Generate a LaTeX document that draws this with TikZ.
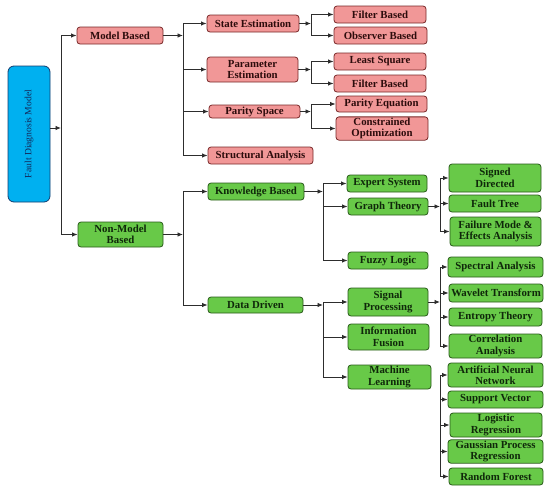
\documentclass[tikz,border=0pt]{standalone}
\usepackage{fontspec}
\setmainfont{Liberation Serif}
\usepackage{xcolor}
\usetikzlibrary{arrows.meta}

\definecolor{pinkfill}{RGB}{241,151,151}
\definecolor{pinkline}{RGB}{120,40,40}
\definecolor{pinktext}{RGB}{45,12,12}
\definecolor{greenfill}{RGB}{104,201,72}
\definecolor{greenline}{RGB}{40,90,25}
\definecolor{greentext}{RGB}{15,40,10}
\definecolor{bluefill}{RGB}{0,176,240}
\definecolor{blueline}{RGB}{20,60,110}
\definecolor{bluetext}{RGB}{20,40,90}
\definecolor{linegray}{RGB}{45,45,45}

\tikzset{
  box/.style={draw, rounded corners=3pt, line width=0.8pt, align=center, inner sep=1pt,
    font=\fontsize{10.8}{11.5}\selectfont\bfseries},
  pinkbox/.style={box, fill=pinkfill, draw=pinkline, text=pinktext},
  greenbox/.style={box, fill=greenfill, draw=greenline, text=greentext},
  rootbox/.style={draw=blueline, fill=bluefill, text=bluetext, rounded corners=6pt,
    line width=0.8pt, font=\fontsize{9.6}{11}\selectfont},
  sz/.style 2 args={minimum width=#1, minimum height=#2},
  conn/.style={draw=linegray, line width=0.9pt, -{Latex[length=5.5pt,width=4.5pt]}},
  trunk/.style={draw=linegray, line width=0.9pt},
}

\begin{document}
\begin{tikzpicture}[x=1pt,y=-1pt]
\useasboundingbox (0,0) rectangle (550,491);

% Root
\node[rootbox, sz={42}{136}] (fdm) at (29,134) {\rotatebox{90}{Fault Diagnosis Model}};

% Level 1
\node[pinkbox, sz={86}{17}] (mb) at (120,35.5) {Model Based};
\node[greenbox, sz={85}{25}] (nmb) at (120.5,234.5) {Non-Model\\Based};

% Model based branch
\node[pinkbox, sz={92}{17}] (se) at (253,23.5) {State Estimation};
\node[pinkbox, sz={91}{25}] (pe) at (252.5,69.5) {Parameter\\Estimation};
\node[pinkbox, sz={91}{13}] (ps) at (254.5,111.5) {Parity Space};
\node[pinkbox, sz={105}{17}] (sa) at (260.5,155.5) {Structural Analysis};

\node[pinkbox, sz={92}{17}] (fb1) at (380,14.5) {Filter Based};
\node[pinkbox, sz={93}{17}] (ob) at (380.5,35.5) {Observer Based};
\node[pinkbox, sz={92}{17}] (ls) at (380,61.5) {Least Square};
\node[pinkbox, sz={92}{17}] (fb2) at (380,83.5) {Filter Based};
\node[pinkbox, sz={91}{16}] (pq) at (381.5,104) {Parity Equation};
\node[pinkbox, sz={92}{23}] (co) at (382,128.5) {Constrained\\Optimization};

% Non-model based branch
\node[greenbox, sz={96}{17}] (kb) at (256,191.5) {Knowledge Based};
\node[greenbox, sz={95}{16}] (dd) at (255.5,305) {Data Driven};

\node[greenbox, sz={80}{17}] (es) at (387,183.5) {Expert System};
\node[greenbox, sz={80}{17}] (gt) at (388,206.5) {Graph Theory};
\node[greenbox, sz={80}{17}] (fl) at (388,260.5) {Fuzzy Logic};
\node[greenbox, sz={92}{28}] (sd) at (495,178) {Signed\\Directed};
\node[greenbox, sz={92}{17}] (ft) at (495,203.5) {Fault Tree};
\node[greenbox, sz={91}{29}] (fm) at (495.5,231.5) {Failure Mode \&\\Effects Analysis};

\node[greenbox, sz={80}{28}] (sp) at (388,302) {Signal\\Processing};
\node[greenbox, sz={81}{26}] (inf) at (388.5,337) {Information\\Fusion};
\node[greenbox, sz={83}{24}] (ml) at (389.5,377) {Machine\\Learning};

\node[greenbox, sz={95}{20}] (spa) at (495.5,267) {Spectral Analysis};
\node[greenbox, sz={94}{18}, inner xsep=0pt] (wt) at (496,293) {Wavelet Transform};
\node[greenbox, sz={93}{18}] (et) at (495.5,317) {Entropy Theory};
\node[greenbox, sz={93}{24}] (ca) at (495.5,346) {Correlation\\Analysis};
\node[greenbox, sz={95}{24}] (ann) at (495.5,375) {Artificial Neural\\Network};
\node[greenbox, sz={95}{17}] (sv) at (495.5,399.5) {Support Vector};
\node[greenbox, sz={92}{24}] (lr) at (496,425) {Logistic\\Regression};
\node[greenbox, sz={95}{23}] (gp) at (495.5,451.5) {Gaussian Process\\Regression};
\node[greenbox, sz={94}{17}] (rf) at (496,476.5) {Random Forest};

% Trunk positions
\coordinate (j1) at (61,128);
\coordinate (j2) at (183,0);
\coordinate (j3) at (311,0);
\coordinate (j4) at (323,0);
\coordinate (j5) at (440,0);

% Connectors
\draw[trunk] (j1 |- mb) -- (j1 |- nmb);
\draw[conn] (fdm.east |- j1) -- (j1);
\foreach \c in {mb,nmb} \draw[conn] (j1 |- \c) -- (\c);

\draw[trunk] (j2 |- se) -- (j2 |- sa);
\draw[conn] (mb) -- (j2 |- mb);
\foreach \c in {se,pe,ps,sa} \draw[conn] (j2 |- \c) -- (\c);

\draw[trunk] (j2 |- kb) -- (j2 |- dd);
\draw[conn] (nmb) -- (j2 |- nmb);
\foreach \c in {kb,dd} \draw[conn] (j2 |- \c) -- (\c);

\foreach \p/\a/\b in {se/fb1/ob, pe/ls/fb2, ps/pq/co} {
  \draw[trunk] (j3 |- \a) -- (j3 |- \b);
  \draw[conn] (\p) -- (j3 |- \p);
  \draw[conn] (j3 |- \a) -- (\a);
  \draw[conn] (j3 |- \b) -- (\b);
}

\draw[trunk] (j4 |- es) -- (j4 |- fl);
\draw[conn] (kb) -- (j4 |- kb);
\foreach \c in {es,gt,fl} \draw[conn] (j4 |- \c) -- (\c);

\draw[trunk] (j4 |- sp) -- (j4 |- ml);
\draw[conn] (dd) -- (j4 |- dd);
\foreach \c in {sp,inf,ml} \draw[conn] (j4 |- \c) -- (\c);

\draw[trunk] (j5 |- sd) -- (j5 |- fm);
\draw[conn] (gt) -- (j5 |- gt);
\foreach \c in {sd,ft,fm} \draw[conn] (j5 |- \c) -- (\c);

\draw[trunk] (j5 |- spa) -- (j5 |- ca);
\draw[conn] (sp) -- (j5 |- sp);
\foreach \c in {spa,wt,et,ca} \draw[conn] (j5 |- \c) -- (\c);

\draw[trunk] (j5 |- ann) -- (j5 |- rf);
\foreach \c in {ann,sv,lr,gp,rf} \draw[conn] (j5 |- \c) -- (\c);
\end{tikzpicture}
\end{document}
